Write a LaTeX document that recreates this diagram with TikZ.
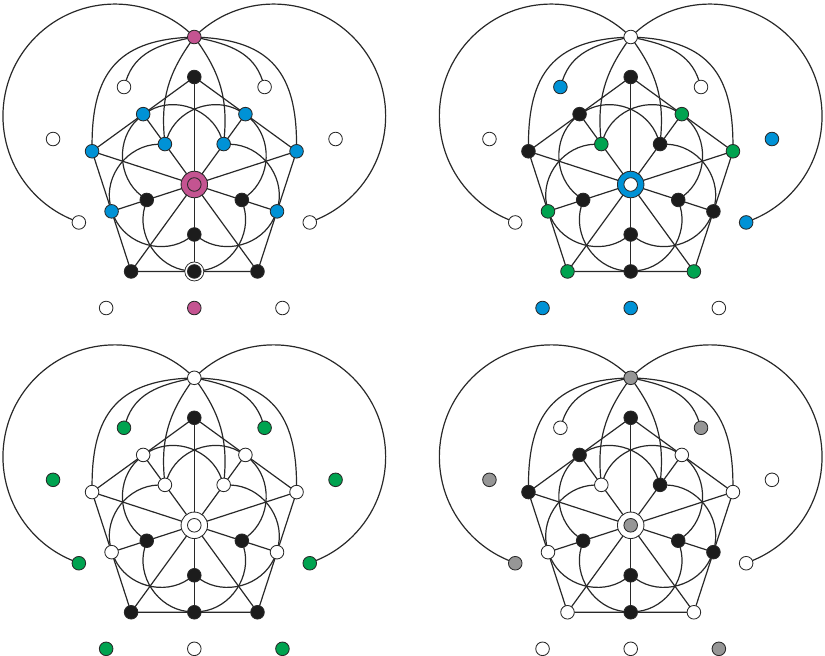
\documentclass[tikz,border=0pt]{standalone}
\pgfdeclarelayer{bg}
\pgfsetlayers{bg,main}
\definecolor{mag}{RGB}{196,84,145}
\definecolor{blu}{RGB}{0,146,214}
\definecolor{grn}{RGB}{0,163,80}
\definecolor{gry}{RGB}{150,150,150}
\definecolor{blk}{RGB}{28,28,28}
\definecolor{ln}{RGB}{40,40,40}
\tikzset{
  nd/.style={circle, draw=ln, line width=0.85pt, minimum size=13.6pt, inner sep=0pt, outer sep=0pt},
  bignd/.style={circle, draw=ln, line width=0.85pt, minimum size=26.5pt, inner sep=0pt, outer sep=0pt},
  ringnd/.style={circle, draw=ln, line width=0.75pt, minimum size=19pt, inner sep=0pt, outer sep=0pt, fill=white},
  edge/.style={draw=ln, line width=1.2pt},
}
\newcommand\panel[3]{%
\begin{scope}[x=107.5pt, y=107.5pt, shift={(#2pt,#3pt)}]
\node[nd,fill=\cT] (#1T) at (0,1.372) {};
\node[nd,fill=\cWl] (#1Wl) at (-0.654,0.907) {};
\node[nd,fill=\cWr] (#1Wr) at (0.654,0.907) {};
\node[nd,fill=\cSl] (#1Sl) at (-1.314,0.423) {};
\node[nd,fill=\cSr] (#1Sr) at (1.314,0.423) {};
\node[nd,fill=\cLl] (#1Ll) at (-1.074,-0.353) {};
\node[nd,fill=\cLr] (#1Lr) at (1.074,-0.353) {};
\node[nd,fill=\cVt] (#1V90) at (90:1) {};
\node[nd,fill=\cVr] (#1V18) at (18:1) {};
\node[nd,fill=\cVbr] (#1V306) at (306:1) {};
\node[nd,fill=\cVbl] (#1V234) at (234:1) {};
\node[nd,fill=\cVl] (#1V162) at (162:1) {};
\node[nd,fill=\cMtr] (#1M54) at (54:0.809) {};
\node[nd,fill=\cMtl] (#1M126) at (126:0.809) {};
\node[nd,fill=\cMl] (#1M198) at (198:0.809) {};
\extra
\node[nd,fill=\cMb] (#1M270) at (270:0.809) {};
\node[nd,fill=\cMr] (#1M342) at (342:0.809) {};
\node[nd,fill=\cItr] (#1I54) at (54:0.465) {};
\node[nd,fill=\cItl] (#1I126) at (126:0.465) {};
\node[nd,fill=\cIl] (#1I198) at (198:0.465) {};
\node[nd,fill=\cIb] (#1I270) at (270:0.465) {};
\node[nd,fill=\cIr] (#1I342) at (342:0.465) {};
\node[bignd,fill=\cCo] (#1C) at (0,0) {};
\node[nd,fill=\cCi] (#1Ci) at (0,0) {};
\node[nd,fill=\cBl] (#1Bl) at (-0.82,-1.149) {};
\node[nd,fill=\cBm] (#1Bm) at (0,-1.149) {};
\node[nd,fill=\cBr] (#1Br) at (0.82,-1.149) {};
\begin{pgfonlayer}{bg}
\draw[edge] (#1V90) -- (#1M54) -- (#1V18) -- (#1M342) -- (#1V306) -- (#1M270)
  -- (#1V234) -- (#1M198) -- (#1V162) -- (#1M126) -- (#1V90);
\foreach \v in {90,18,306,234,162} {\draw[edge] (#1C) -- (#1V\v);}
\foreach \m in {54,126,198,270,342} {\draw[edge] (#1C) -- (#1I\m) -- (#1M\m);}
\foreach \p/\q in {54/126,126/198,198/270,270/342,342/54} {
  \draw[edge] (#1M\p) to[bend right=50] (#1I\q);
  \draw[edge] (#1I\p) to[bend right=50] (#1M\q);
}
\draw[edge] (#1T) to[out=183,in=90,looseness=1.25] (#1V162);
\draw[edge] (#1T) to[out=-3,in=90,looseness=1.25] (#1V18);
\draw[edge] (#1T) to[out=192,in=72] (#1Wl);
\draw[edge] (#1T) to[out=-12,in=108] (#1Wr);
\draw[edge] (#1T) to[out=235,in=95] (#1I126);
\draw[edge] (#1T) to[out=-55,in=85] (#1I54);
\draw[edge] (#1T.center) arc[start angle=44.9, end angle=251.3, radius=1.042];
\draw[edge] (#1T.center) arc[start angle=135.1, end angle=-71.3, radius=1.042];
\end{pgfonlayer}
\end{scope}}
\begin{document}
\begin{tikzpicture}
\useasboundingbox (0pt,0pt) rectangle (825pt,656pt);
% panel a
\def\cT{mag}\def\cWl{white}\def\cWr{white}\def\cSl{white}\def\cSr{white}\def\cLl{white}\def\cLr{white}
\def\cVt{blk}\def\cVr{blu}\def\cVl{blu}\def\cVbl{blk}\def\cVbr{blk}
\def\cMtl{blu}\def\cMtr{blu}\def\cMl{blu}\def\cMr{blu}\def\cMb{blk}
\def\cItl{blu}\def\cItr{blu}\def\cIl{blk}\def\cIr{blk}\def\cIb{blk}
\def\cCo{mag}\def\cCi{mag}\def\cBl{white}\def\cBm{mag}\def\cBr{white}
\def\extra{\node[ringnd] (aRing) at (270:0.809) {};}
\panel{a}{194.3}{471.5}
% panel b
\def\cT{white}\def\cWl{blu}\def\cWr{white}\def\cSl{white}\def\cSr{blu}\def\cLl{white}\def\cLr{blu}
\def\cVt{blk}\def\cVr{grn}\def\cVl{blk}\def\cVbl{grn}\def\cVbr{grn}
\def\cMtl{blk}\def\cMtr{grn}\def\cMl{grn}\def\cMr{blk}\def\cMb{blk}
\def\cItl{grn}\def\cItr{blk}\def\cIl{blk}\def\cIr{blk}\def\cIb{blk}
\def\cCo{blu}\def\cCi{white}\def\cBl{blu}\def\cBm{blu}\def\cBr{white}
\def\extra{}
\panel{b}{630.7}{471.5}
% panel c
\def\cT{white}\def\cWl{grn}\def\cWr{grn}\def\cSl{grn}\def\cSr{grn}\def\cLl{grn}\def\cLr{grn}
\def\cVt{blk}\def\cVr{white}\def\cVl{white}\def\cVbl{blk}\def\cVbr{blk}
\def\cMtl{white}\def\cMtr{white}\def\cMl{white}\def\cMr{white}\def\cMb{blk}
\def\cItl{white}\def\cItr{white}\def\cIl{blk}\def\cIr{blk}\def\cIb{blk}
\def\cCo{white}\def\cCi{white}\def\cBl{grn}\def\cBm{white}\def\cBr{grn}
\panel{c}{194.3}{130.7}
% panel d
\def\cT{gry}\def\cWl{white}\def\cWr{gry}\def\cSl{gry}\def\cSr{white}\def\cLl{gry}\def\cLr{white}
\def\cVt{blk}\def\cVr{white}\def\cVl{blk}\def\cVbl{white}\def\cVbr{white}
\def\cMtl{blk}\def\cMtr{white}\def\cMl{white}\def\cMr{blk}\def\cMb{blk}
\def\cItl{white}\def\cItr{blk}\def\cIl{blk}\def\cIr{blk}\def\cIb{blk}
\def\cCo{white}\def\cCi{gry}\def\cBl{white}\def\cBm{white}\def\cBr{gry}
\panel{d}{630.7}{130.7}
\end{tikzpicture}
\end{document}
